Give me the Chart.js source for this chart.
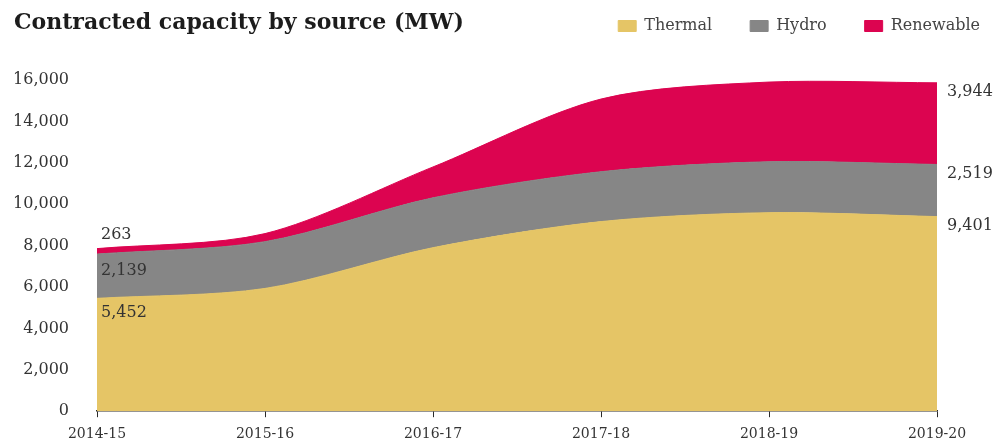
<!DOCTYPE html>
<html>
<head>
<meta charset="utf-8">
<script src="https://cdn.jsdelivr.net/npm/chart.js@4/dist/chart.umd.min.js"></script>
<style>
  html, body { margin: 0; padding: 0; background: #fff; }
  #wrap { position: relative; width: 1004px; height: 445px; }
  #titulo { position: absolute; left: 14px; top: 8px; font-family: "DejaVu Serif", serif; font-weight: bold; font-size: 22px; color: #1c1c1c; }
</style>
</head>
<body>
<div id="wrap">
  <div id="titulo">Contracted capacity by source (MW)</div>
  <canvas id="areaChart" width="1004" height="445"></canvas>
</div>
<script>
var categorias = ['2014-15', '2015-16', '2016-17', '2017-18', '2018-19', '2019-20'];
var termica    = [5452, 5930, 7900, 9160, 9590, 9401];
var hidro      = [2139, 2260, 2410, 2410, 2460, 2519];
var renovable  = [263, 390, 1490, 3510, 3850, 3944];
var marcasY    = [0, 2000, 4000, 6000, 8000, 10000, 12000, 14000, 16000];

var colores = ['#e5c566', '#868686', '#dc0450'];
var fuente = '"DejaVu Serif", serif';

function fmt(v) { return v.toLocaleString('en-US'); }

// deja espacio bajo la leyenda para que el area empiece mas abajo
var espacioLeyenda = {
    id: 'espacioLeyenda',
    afterInit: function(chart) {
        var ley = chart.legend;
        var fitOrig = ley.fit;
        ley.fit = function() {
            fitOrig.call(this);
            this.height += 36;
        };
    }
};

// etiquetas al inicio y al final de cada banda
var etiquetas = {
    id: 'etiquetas',
    afterDatasetsDraw: function(chart) {
        var ctx = chart.ctx;
        var y = chart.scales.y;
        var area = chart.chartArea;
        var series = chart.data.datasets;
        var n = categorias.length - 1;
        var acumIni = 0, acumFin = 0;
        var offIni = [15, 17, -14];
        ctx.save();
        ctx.font = '16px ' + fuente;
        ctx.fillStyle = '#333';
        ctx.textBaseline = 'middle';
        ctx.textAlign = 'left';
        for (var i = 0; i < series.length; i++) {
            var d = series[i].data;
            acumIni += d[0];
            acumFin += d[n];
            ctx.fillText(fmt(d[0]), area.left + 4, y.getPixelForValue(acumIni) + offIni[i]);
            ctx.fillText(fmt(d[n]), area.right + 10, y.getPixelForValue(acumFin) + 9);
        }
        ctx.restore();
    }
};

function generarGrafica() {
    var ctx = document.getElementById('areaChart').getContext('2d');
    var nombres = ['Thermal', 'Hydro', 'Renewable'];
    var valores = [termica, hidro, renovable];
    var datasets = [];
    for (var i = 0; i < 3; i++) {
        datasets.push({
            label: nombres[i],
            data: valores[i],
            backgroundColor: colores[i],
            borderColor: colores[i],
            borderWidth: 1,
            pointRadius: 0,
            fill: i == 0 ? 'origin' : '-1',
            tension: 0.3
        });
    }

    new Chart(ctx, {
        type: 'line',
        data: { labels: categorias, datasets: datasets },
        options: {
            responsive: false,
            animation: false,
            layout: { padding: { left: 0, right: -14, top: -20, bottom: -7 } },
            plugins: {
                legend: {
                    position: 'top',
                    align: 'end',
                    labels: {
                        boxWidth: 18,
                        boxHeight: 11,
                        padding: 38,
                        color: '#444',
                        font: { family: fuente, size: 16 }
                    }
                },
                tooltip: { enabled: false }
            },
            scales: {
                x: {
                    offset: false,
                    grid: { display: true, drawOnChartArea: false, drawTicks: true, tickLength: 6, color: '#2a2a2a' },
                    border: { display: true, color: '#2a2a2a', width: 1.5 },
                    ticks: { color: '#333', font: { family: fuente, size: 14 }, maxRotation: 0, padding: 9 }
                },
                y: {
                    stacked: true,
                    min: 0,
                    max: 16000,
                    afterBuildTicks: function(axis) { axis.ticks = marcasY.map(function(v) { return { value: v }; }); },
                    afterFit: function(axis) { axis.width = 97; },
                    grid: { display: false },
                    border: { display: false },
                    ticks: {
                        color: '#333',
                        padding: 20,
                        font: { family: fuente, size: 16 },
                        callback: function(v) { return fmt(v); }
                    }
                },
                derecha: {
                    position: 'right',
                    afterFit: function(axis) { axis.width = 81; },
                    grid: { display: false },
                    border: { display: false },
                    ticks: { display: false }
                }
            }
        },
        plugins: [espacioLeyenda, etiquetas]
    });
}

generarGrafica();
</script>
</body>
</html>
